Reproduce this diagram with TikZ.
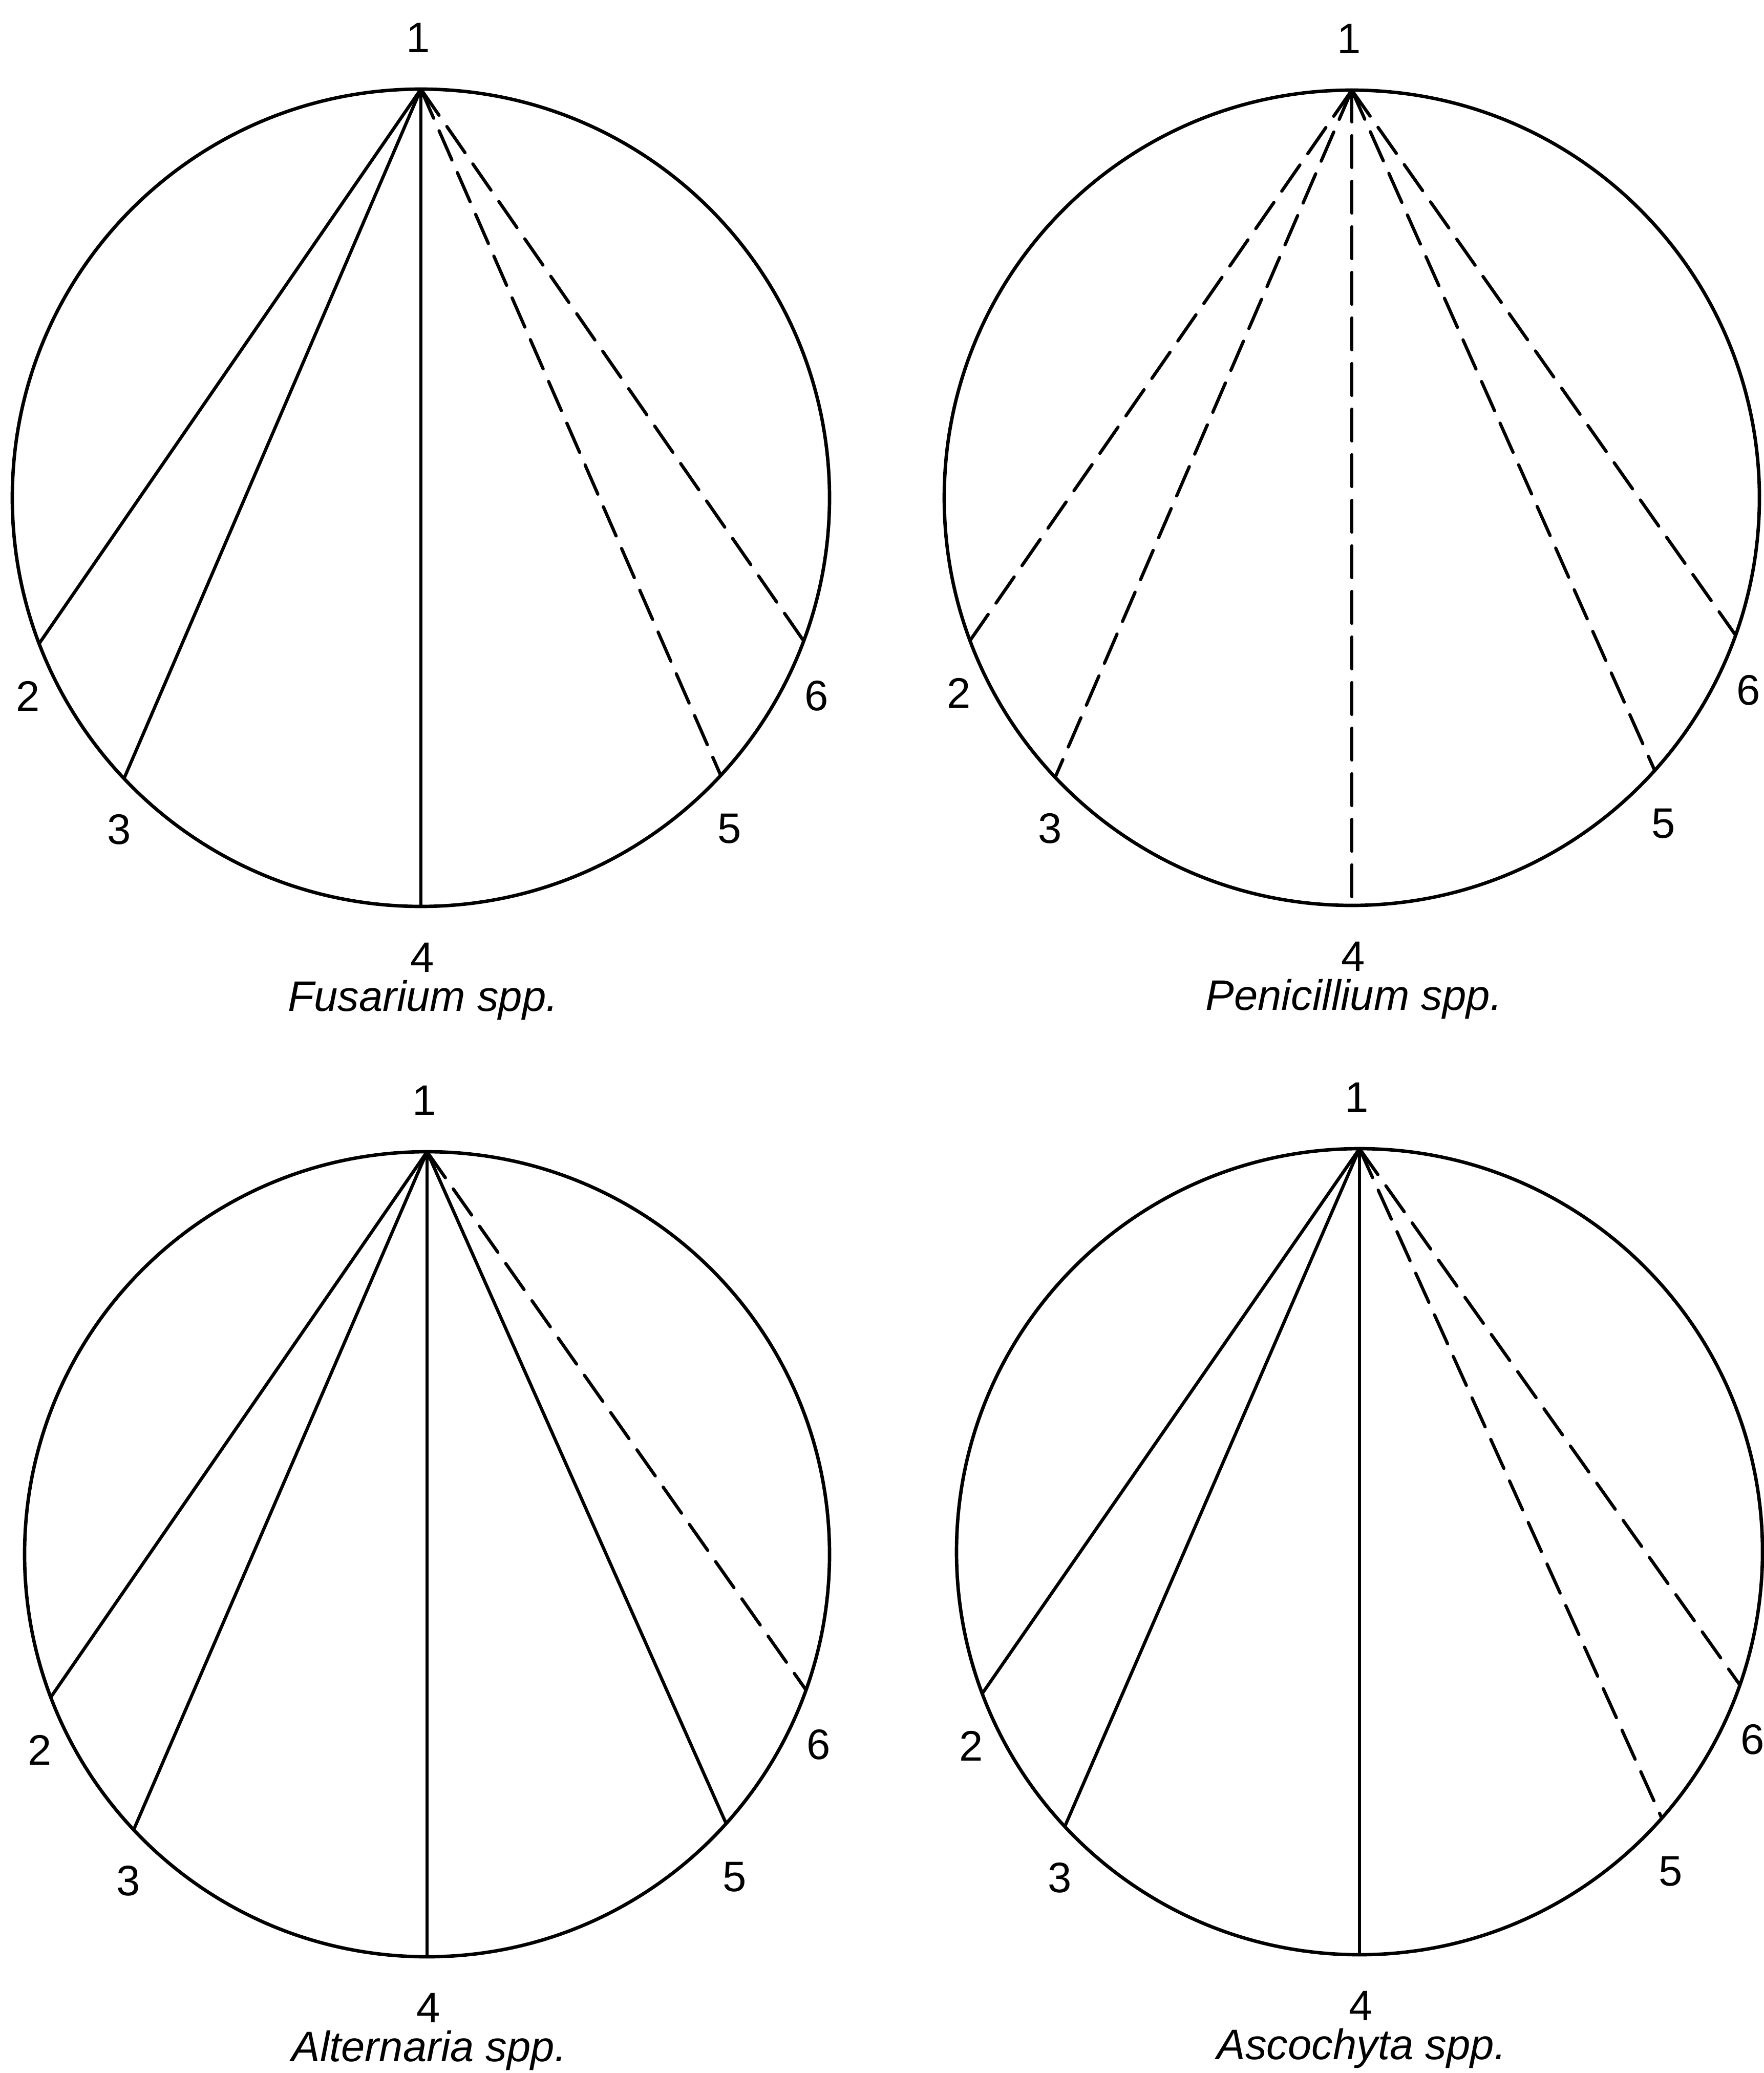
\documentclass[tikz,border=0pt]{standalone}
\usepackage{fontspec}
\setmainfont{Liberation Sans}
\begin{document}
\begin{tikzpicture}[line join=round,line cap=round,scale=1]
\tikzstyle{rim} = [draw,line width=1.9pt]
\tikzstyle{full chord} = [draw,line width=1.8pt]
\tikzstyle{broken chord} = [draw,line width=1.8pt,dash pattern=on 0.62cm off 0.27cm]
\tikzstyle{num} = [font=\fontsize{23.7}{28}\selectfont,inner sep=0pt]
\tikzstyle{species} = [font=\fontsize{23.7}{28}\selectfont\itshape,inner sep=0pt,anchor=base]

\useasboundingbox (0,0) rectangle (34.44,-40.48);

% Fusarium
\coordinate (F)  at (8.22,-9.72);
\coordinate (F1) at ([shift={(90:7.98)}]F);
\coordinate (F2) at ([shift={(200.9:7.98)}]F);
\coordinate (F3) at ([shift={(223.4:7.98)}]F);
\coordinate (F4) at ([shift={(270:7.98)}]F);
\coordinate (F5) at ([shift={(317.2:7.98)}]F);
\coordinate (F6) at ([shift={(339.5:7.98)}]F);

\draw[rim] (F) circle (7.98);
\draw[full chord] (F1) -- (F2);
\draw[full chord] (F1) -- (F3);
\draw[full chord] (F1) -- (F4);
\draw[broken chord] (F1) -- (F5);
\draw[broken chord] (F1) -- (F6);

\node[num] (nF1) at ([shift={(-0.05,1.0)}]F1) {1};
\node[num] (nF2) at ([shift={(-0.22,-1.03)}]F2) {2};
\node[num] (nF3) at ([shift={(-0.10,-1.0)}]F3) {3};
\node[num] (nF4) at ([shift={(0.03,-1.0)}]F4) {4};
\node[num] (nF5) at ([shift={(0.17,-1.04)}]F5) {5};
\node[num] (nF6) at ([shift={(0.25,-1.07)}]F6) {6};
\node[species] (capF) at ([shift={(0.04,-2.04)}]F4) {Fusarium spp.};

% Penicillium
\coordinate (P)  at (26.40,-9.72);
\coordinate (P1) at ([shift={(90:7.96)}]P);
\coordinate (P2) at ([shift={(200.5:7.96)}]P);
\coordinate (P3) at ([shift={(223.3:7.96)}]P);
\coordinate (P4) at ([shift={(270:7.96)}]P);
\coordinate (P5) at ([shift={(318.0:7.96)}]P);
\coordinate (P6) at ([shift={(340.3:7.96)}]P);

\draw[rim] (P) circle (7.96);
\draw[broken chord] (P1) -- (P2);
\draw[broken chord] (P1) -- (P3);
\draw[broken chord] (P1) -- (P4);
\draw[broken chord] (P1) -- (P5);
\draw[broken chord] (P1) -- (P6);

\node[num] (nP1) at ([shift={(-0.05,1.0)}]P1) {1};
\node[num] (nP2) at ([shift={(-0.22,-1.03)}]P2) {2};
\node[num] (nP3) at ([shift={(-0.10,-1.0)}]P3) {3};
\node[num] (nP4) at ([shift={(0.03,-1.0)}]P4) {4};
\node[num] (nP5) at ([shift={(0.17,-1.04)}]P5) {5};
\node[num] (nP6) at ([shift={(0.25,-1.07)}]P6) {6};
\node[species] (capP) at ([shift={(0.04,-2.04)}]P4) {Penicillium spp.};

% Alternaria
\coordinate (Al)  at (8.34,-30.35);
\coordinate (Al1) at ([shift={(90:7.86)}]Al);
\coordinate (Al2) at ([shift={(200.8:7.86)}]Al);
\coordinate (Al3) at ([shift={(223.2:7.86)}]Al);
\coordinate (Al4) at ([shift={(270:7.86)}]Al);
\coordinate (Al5) at ([shift={(318.0:7.86)}]Al);
\coordinate (Al6) at ([shift={(340.3:7.86)}]Al);

\draw[rim] (Al) circle (7.86);
\draw[full chord] (Al1) -- (Al2);
\draw[full chord] (Al1) -- (Al3);
\draw[full chord] (Al1) -- (Al4);
\draw[full chord] (Al1) -- (Al5);
\draw[broken chord] (Al1) -- (Al6);

\node[num] (nAl1) at ([shift={(-0.05,1.0)}]Al1) {1};
\node[num] (nAl2) at ([shift={(-0.22,-1.03)}]Al2) {2};
\node[num] (nAl3) at ([shift={(-0.10,-1.0)}]Al3) {3};
\node[num] (nAl4) at ([shift={(0.03,-1.0)}]Al4) {4};
\node[num] (nAl5) at ([shift={(0.17,-1.04)}]Al5) {5};
\node[num] (nAl6) at ([shift={(0.25,-1.07)}]Al6) {6};
\node[species] (capAl) at ([shift={(0.04,-2.04)}]Al4) {Alternaria spp.};

% Ascochyta
\coordinate (As)  at (26.55,-30.30);
\coordinate (As1) at ([shift={(90:7.87)}]As);
\coordinate (As2) at ([shift={(200.6:7.87)}]As);
\coordinate (As3) at ([shift={(223.0:7.87)}]As);
\coordinate (As4) at ([shift={(270:7.87)}]As);
\coordinate (As5) at ([shift={(318.6:7.87)}]As);
\coordinate (As6) at ([shift={(340.7:7.87)}]As);

\draw[rim] (As) circle (7.87);
\draw[full chord] (As1) -- (As2);
\draw[full chord] (As1) -- (As3);
\draw[full chord] (As1) -- (As4);
\draw[broken chord] (As1) -- (As5);
\draw[broken chord] (As1) -- (As6);

\node[num] (nAs1) at ([shift={(-0.05,1.0)}]As1) {1};
\node[num] (nAs2) at ([shift={(-0.22,-1.03)}]As2) {2};
\node[num] (nAs3) at ([shift={(-0.10,-1.0)}]As3) {3};
\node[num] (nAs4) at ([shift={(0.03,-1.0)}]As4) {4};
\node[num] (nAs5) at ([shift={(0.17,-1.04)}]As5) {5};
\node[num] (nAs6) at ([shift={(0.25,-1.07)}]As6) {6};
\node[species] (capAs) at ([shift={(0.04,-2.04)}]As4) {Ascochyta spp.};

\end{tikzpicture}
\end{document}
